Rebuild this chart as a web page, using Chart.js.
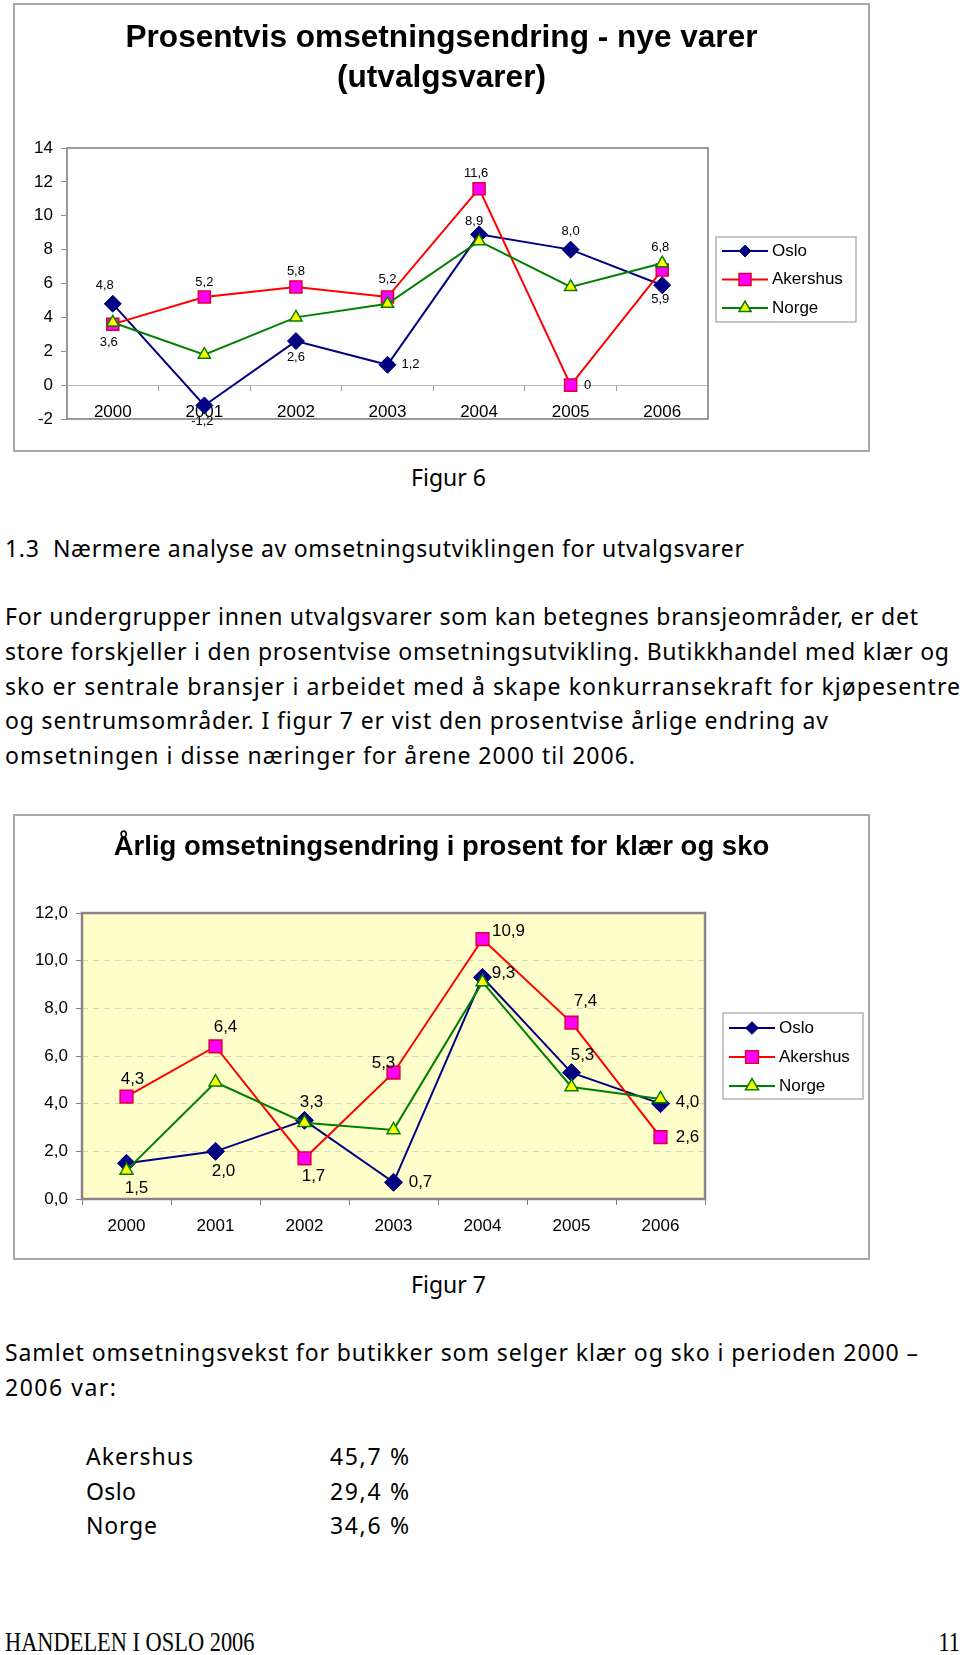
<!DOCTYPE html>
<html lang="no">
<head>
<meta charset="utf-8">
<title>Handelen i Oslo 2006 - figur 6 og 7</title>
<script src="https://cdn.jsdelivr.net/npm/chart.js@4.4.1/dist/chart.umd.min.js"></script>
<style>
html, body { margin: 0; padding: 0; background: #fff; }
body { width: 960px; height: 1655px; position: relative; overflow: hidden; color: #000; font-family: 'Noto Sans', sans-serif; }
.frame { position: absolute; border: 2px solid #a8a8a8; box-sizing: border-box; }
.frame canvas { display: block; }
.t { position: absolute; white-space: pre; font-size: 23px; line-height: 30px; }
.foot { position: absolute; white-space: pre; font-family: 'Liberation Serif', serif; font-size: 28px; line-height: 32px; }
</style>
</head>
<body>

<div class="frame" style="left:13px; top:3px; width:857px; height:449px;">
  <canvas id="fig6" width="853" height="445"></canvas>
</div>

<div class="t fit" data-w="75" style="left:411px; top:462px;">Figur 6</div>
<div class="t fit" data-w="739" style="left:5px; top:533px;">1.3  Nærmere analyse av omsetningsutviklingen for utvalgsvarer</div>
<div class="t fit" data-w="913" style="left:5px; top:601px;">For undergrupper innen utvalgsvarer som kan betegnes bransjeområder, er det</div>
<div class="t fit" data-w="944" style="left:5px; top:636px;">store forskjeller i den prosentvise omsetningsutvikling. Butikkhandel med klær og</div>
<div class="t fit" data-w="955" style="left:5px; top:671px;">sko er sentrale bransjer i arbeidet med å skape konkurransekraft for kjøpesentre</div>
<div class="t fit" data-w="823" style="left:5px; top:705px;">og sentrumsområder. I figur 7 er vist den prosentvise årlige endring av</div>
<div class="t fit" data-w="630" style="left:5px; top:740px;">omsetningen i disse næringer for årene 2000 til 2006.</div>

<div class="frame" style="left:13px; top:814px; width:857px; height:446px;">
  <canvas id="fig7" width="853" height="442"></canvas>
</div>

<div class="t fit" data-w="75" style="left:411px; top:1269px;">Figur 7</div>
<div class="t fit" data-w="913" style="left:5px; top:1337px;">Samlet omsetningsvekst for butikker som selger klær og sko i perioden 2000 –</div>
<div class="t fit" data-w="111" style="left:5px; top:1372px;">2006 var:</div>

<div class="t fit" data-w="107" style="left:86px; top:1441px;">Akershus</div>
<div class="t fit" data-w="79" style="left:330px; top:1441px;">45,7 %</div>
<div class="t fit" data-w="50" style="left:86px; top:1476px;">Oslo</div>
<div class="t fit" data-w="79" style="left:330px; top:1476px;">29,4 %</div>
<div class="t fit" data-w="71" style="left:86px; top:1510px;">Norge</div>
<div class="t fit" data-w="79" style="left:330px; top:1510px;">34,6 %</div>

<div class="foot" style="left:5px; top:1626px; transform:scaleX(0.8); transform-origin:left center;">HANDELEN I OSLO 2006</div>
<div class="foot" style="right:0; top:1626px; transform:scaleX(0.8); transform-origin:right center;">11</div>

<script>
Chart.defaults.font.family = "'Liberation Sans', Arial, sans-serif";
Chart.defaults.color = '#000';

const years = ['2000', '2001', '2002', '2003', '2004', '2005', '2006'];

// Figur 6: nye varer (utvalgsvarer)
const osloNye = [4.8, -1.2, 2.6, 1.2, 8.9, 8.0, 5.9];
const akershusNye = [3.6, 5.2, 5.8, 5.2, 11.6, 0, 6.8];
const norgeNye = [3.7, 1.8, 4.0, 4.8, 8.5, 5.8, 7.2];

// Figur 7: klær og sko
const osloKlaer = [1.5, 2.0, 3.3, 0.7, 9.3, 5.3, 4.0];
const akershusKlaer = [4.3, 6.4, 1.7, 5.3, 10.9, 7.4, 2.6];
const norgeKlaer = [1.2, 4.9, 3.2, 2.9, 9.1, 4.7, 4.2];

// where each value label sits relative to its point (px), Oslo and Akershus only
const nyeLabelOffsets = [
  [[-8, -18], [-2, 16], [0, 16], [23, 0], [-5, -13], [0, -18], [-2, 14]],
  [[-4, 18], [0, -15], [0, -15], [0, -18], [-3, -15], [17, 0], [-2, -23]]
];
const klaerLabelOffsets = [
  [[10, 25], [8, 20], [7, -18], [27, 0], [21, -4], [11, -17], [27, -1]],
  [[6, -17], [10, -19], [9, 18], [-10, -9], [26, -8], [14, -21], [27, 0]]
];

function seriesStyles(r) {
  return [
    { label: 'Oslo', borderColor: '#000080', backgroundColor: '#000080', borderWidth: 2,
      pointStyle: 'rectRot', pointRadius: r, pointBackgroundColor: '#000080',
      pointBorderColor: '#000080', pointBorderWidth: 1, order: 3 },
    { label: 'Akershus', borderColor: '#ff0000', backgroundColor: '#ff00ff', borderWidth: 2,
      pointStyle: 'rect', pointRadius: r, pointBackgroundColor: '#ff00ff',
      pointBorderColor: '#e00030', pointBorderWidth: 1.5, order: 2 },
    { label: 'Norge', borderColor: '#008000', backgroundColor: '#ffff00', borderWidth: 2,
      pointStyle: 'triangle', pointRadius: r - 1.5, pointBackgroundColor: '#ffff00',
      pointBorderColor: '#008000', pointBorderWidth: 1.5, order: 1 }
  ];
}

function drawMarker(ctx, style, x, y, r) {
  const s = r * Math.SQRT1_2;
  ctx.beginPath();
  if (style === 'rectRot') {
    ctx.moveTo(x - s, y); ctx.lineTo(x, y + s); ctx.lineTo(x + s, y); ctx.lineTo(x, y - s);
  } else if (style === 'rect') {
    ctx.rect(x - s, y - s, 2 * s, 2 * s);
  } else {
    let a = 0;
    ctx.moveTo(x + Math.sin(a) * r, y - Math.cos(a) * r);
    a += Math.PI * 2 / 3; ctx.lineTo(x + Math.sin(a) * r, y - Math.cos(a) * r);
    a += Math.PI * 2 / 3; ctx.lineTo(x + Math.sin(a) * r, y - Math.cos(a) * r);
  }
  ctx.closePath();
  ctx.fill();
  ctx.stroke();
}

// grey border (and optional fill) round the plot area
function plotFrame(color, width, fill) {
  return {
    id: 'plotFrame',
    beforeDraw(chart) {
      if (!fill) return;
      const a = chart.chartArea, ctx = chart.ctx;
      ctx.save();
      ctx.fillStyle = fill;
      ctx.fillRect(a.left, a.top, a.width, a.height);
      ctx.restore();
    },
    beforeDatasetsDraw(chart) {
      const a = chart.chartArea, ctx = chart.ctx;
      ctx.save();
      ctx.strokeStyle = color;
      ctx.lineWidth = width;
      ctx.strokeRect(a.left, a.top, a.width, a.height);
      ctx.restore();
    }
  };
}

// Excel style legend: line with marker, framed box
function boxLegend(box) {
  return {
    id: 'boxLegend',
    afterDraw(chart) {
      const ctx = chart.ctx;
      ctx.save();
      ctx.strokeStyle = '#b4b4b4';
      ctx.lineWidth = 1.5;
      ctx.strokeRect(box.x, box.y, box.w, box.h);
      ctx.font = '17px ' + Chart.defaults.font.family;
      ctx.textBaseline = 'middle';
      chart.data.datasets.forEach((ds, i) => {
        const cy = box.y + box.rowTop + i * box.rowGap;
        ctx.strokeStyle = ds.borderColor;
        ctx.lineWidth = ds.borderWidth;
        ctx.beginPath();
        ctx.moveTo(box.x + 6, cy);
        ctx.lineTo(box.x + 52, cy);
        ctx.stroke();
        ctx.fillStyle = ds.pointBackgroundColor;
        ctx.strokeStyle = ds.pointBorderColor;
        ctx.lineWidth = ds.pointBorderWidth;
        drawMarker(ctx, ds.pointStyle, box.x + 29, cy, ds.pointRadius);
        ctx.fillStyle = '#000';
        ctx.fillText(ds.label, box.x + 56, cy);
      });
      ctx.restore();
    }
  };
}

function valueLabels(offsets, size, format) {
  return {
    id: 'valueLabels',
    afterDatasetsDraw(chart) {
      const ctx = chart.ctx;
      ctx.save();
      ctx.font = size + 'px ' + Chart.defaults.font.family;
      ctx.fillStyle = '#000';
      ctx.textAlign = 'center';
      ctx.textBaseline = 'middle';
      offsets.forEach((offs, i) => {
        const meta = chart.getDatasetMeta(i);
        const values = chart.data.datasets[i].data;
        meta.data.forEach((pt, j) => {
          ctx.fillText(format(values[j]), pt.x + offs[j][0], pt.y + offs[j][1]);
        });
      });
      ctx.restore();
    }
  };
}

// empty right-hand axis that keeps room for the legend without moving the title off centre
function legendSpace(width) {
  return {
    position: 'right',
    display: true,
    grid: { display: false },
    border: { display: false },
    ticks: { display: false },
    afterFit(scale) { scale.width = width; }
  };
}

const comma = v => v.toFixed(1).replace('.', ',');

// Figur 6
const styles6 = seriesStyles(8.5);
new Chart(document.getElementById('fig6'), {
  type: 'line',
  data: {
    labels: years,
    datasets: [osloNye, akershusNye, norgeNye].map((d, i) => Object.assign({ data: d, tension: 0, fill: false }, styles6[i]))
  },
  options: {
    responsive: false,
    animation: false,
    layout: { padding: { left: 0, right: 0, top: 0, bottom: 31 } },
    plugins: {
      legend: { display: false },
      tooltip: { enabled: false },
      title: {
        display: true,
        text: ['Prosentvis omsetningsendring - nye varer', '(utvalgsvarer)'],
        color: '#000',
        font: { size: 31.6, weight: 'bold', lineHeight: '40px' },
        padding: { top: 13, bottom: 50 }
      }
    },
    scales: {
      x: {
        position: { y: 0 },
        offset: true,
        grid: { drawOnChartArea: false, drawTicks: true, tickLength: 5, tickColor: '#9a9a9a', offset: true },
        border: { display: true, color: '#b8b8b8', width: 1 },
        ticks: { font: { size: 17 }, padding: 12, maxRotation: 0, autoSkip: false }
      },
      y: {
        min: -2,
        max: 14,
        afterFit(scale) { scale.width = 52; },
        grid: { drawOnChartArea: false, drawTicks: true, tickLength: 6, tickColor: '#909090' },
        border: { display: false },
        ticks: { stepSize: 2, font: { size: 17 }, padding: 8, callback: v => String(v) }
      },
      legendRoom: legendSpace(160)
    }
  },
  plugins: [
    plotFrame('#9a9a9a', 2, null),
    valueLabels(nyeLabelOffsets, 13, v => (v === 0 ? '0' : comma(v))),
    boxLegend({ x: 701, y: 232, w: 140, h: 85, rowTop: 14, rowGap: 28.5 })
  ]
});

// Figur 7
const styles7 = seriesStyles(9);
new Chart(document.getElementById('fig7'), {
  type: 'line',
  data: {
    labels: years,
    datasets: [osloKlaer, akershusKlaer, norgeKlaer].map((d, i) => Object.assign({ data: d, tension: 0, fill: false }, styles7[i]))
  },
  options: {
    responsive: false,
    animation: false,
    layout: { padding: { left: 0, right: 0, top: 0, bottom: 19 } },
    plugins: {
      legend: { display: false },
      tooltip: { enabled: false },
      title: {
        display: true,
        text: 'Årlig omsetningsendring i prosent for klær og sko',
        color: '#000',
        font: { size: 27.5, weight: 'bold', lineHeight: '34px' },
        padding: { top: 14, bottom: 49 }
      }
    },
    scales: {
      x: {
        position: 'bottom',
        offset: true,
        afterFit(scale) { scale.height = 40; },
        grid: { drawOnChartArea: false, drawTicks: true, tickLength: 6, tickColor: '#808080', offset: true },
        border: { display: false },
        ticks: { font: { size: 17 }, padding: 11, maxRotation: 0, autoSkip: false }
      },
      y: {
        min: 0,
        max: 12,
        afterFit(scale) { scale.width = 67; },
        grid: { color: '#d9d6b2', drawTicks: true, tickLength: 6, tickColor: '#808080' },
        border: { display: false, dash: [6, 5] },
        ticks: { stepSize: 2, font: { size: 17 }, padding: 8, callback: v => comma(v) }
      },
      legendRoom: legendSpace(163)
    }
  },
  plugins: [
    plotFrame('#858585', 2.5, '#ffffcc'),
    valueLabels(klaerLabelOffsets, 17, comma),
    boxLegend({ x: 708, y: 197, w: 140, h: 86, rowTop: 15, rowGap: 29 })
  ]
});

// stretch the body text lines to the widths they have on the printed page
function fitLines() {
  document.querySelectorAll('.fit').forEach(el => {
    el.style.letterSpacing = '0px';
    const w = el.getBoundingClientRect().width;
    const n = Math.max(el.textContent.length - 1, 1);
    el.style.letterSpacing = ((+el.dataset.w - w) / n).toFixed(3) + 'px';
  });
}
fitLines();
if (document.fonts && document.fonts.ready) document.fonts.ready.then(fitLines);
</script>
</body>
</html>
